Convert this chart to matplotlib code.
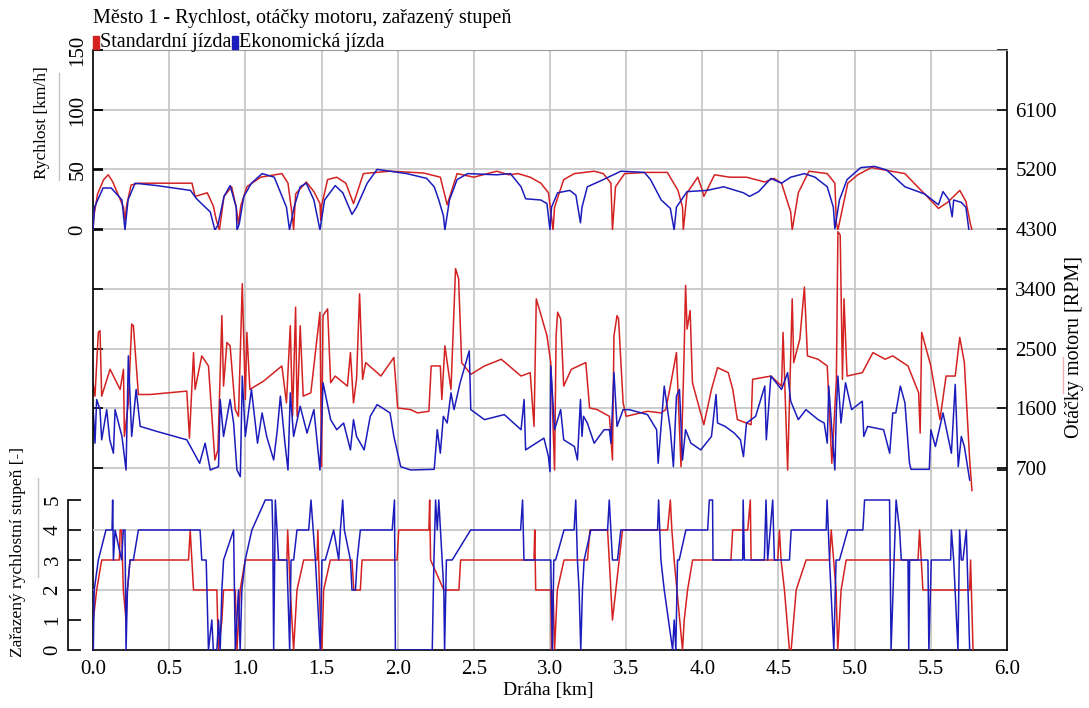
import matplotlib.pyplot as plt
import matplotlib as mpl
from matplotlib.lines import Line2D
from matplotlib.patches import Rectangle
import numpy as np

mpl.rcParams['font.family'] = ['Liberation Serif', 'DejaVu Serif']

title = 'Město 1 - Rychlost, otáčky motoru, zařazený stupeň'
names = ['Standardní jízda', 'Ekonomická jízda']
colors = ['#d42222', '#1c1cbc']

# rychlost [km/h]
spd_std_km = [0, 0.005, 0.03, 0.07, 0.10, 0.13, 0.17, 0.2, 0.21, 0.22, 0.25, 0.30, 0.48, 0.65, 0.67, 0.75,
              0.79, 0.81, 0.83, 0.86, 0.91, 0.94, 0.955, 0.97, 1.01, 1.10, 1.24, 1.28, 1.31, 1.317, 1.33,
              1.40, 1.45, 1.49, 1.495, 1.50, 1.54, 1.60, 1.66, 1.71, 1.775, 1.86, 1.95, 2.10, 2.17, 2.28,
              2.325, 2.39, 2.50, 2.65, 2.73, 2.79, 2.87, 2.94, 2.99, 3.02, 3.03, 3.09, 3.16, 3.29, 3.35,
              3.40, 3.41, 3.43, 3.49, 3.64, 3.77, 3.84, 3.87, 3.875, 3.90, 3.97, 4.00, 4.01, 4.08, 4.18,
              4.29, 4.41, 4.47, 4.52, 4.58, 4.59, 4.63, 4.70, 4.82, 4.87, 4.88, 4.89, 4.955, 5.02, 5.11,
              5.24, 5.33, 5.39, 5.46, 5.55, 5.61, 5.69, 5.73, 5.76, 5.77]
spd_std = [0, 11, 30, 42, 46, 40, 28, 19, 8, 20, 37.5, 39, 39, 39, 28, 31,
           20, 8, 0, 28, 36, 19, 5, 20, 36, 44, 47, 39, 10, 0, 30,
           40, 32, 22, 8, 20, 42, 44, 39, 22, 47, 48, 49, 48, 47.5, 44,
           21, 47, 44, 49, 46, 47, 44, 39, 31, 0, 19, 42, 47, 49, 47,
           39, 0, 36, 47, 48, 48, 33, 19, 0, 31, 44, 33, 28, 46, 44,
           44, 40, 43, 39, 15, 0, 31, 49, 47, 39, 6, 0, 39, 46, 52,
           49, 47, 39, 30, 18, 23, 33, 24, 5, 0]
spd_eko_km = [0, 0.01, 0.066, 0.12, 0.19, 0.21, 0.23, 0.276, 0.42, 0.64, 0.68, 0.77, 0.80, 0.82, 0.86,
              0.90, 0.94, 0.945, 0.96, 0.99, 1.04, 1.11, 1.19, 1.27, 1.29, 1.32, 1.36, 1.40, 1.45, 1.49,
              1.52, 1.59, 1.64, 1.70, 1.73, 1.80, 1.865, 1.95, 2.06, 2.19, 2.24, 2.27, 2.30, 2.31, 2.34,
              2.39, 2.46, 2.65, 2.74, 2.81, 2.84, 2.94, 2.98, 3.0, 3.01, 3.05, 3.13, 3.17, 3.20, 3.21,
              3.245, 3.35, 3.465, 3.62, 3.66, 3.73, 3.79, 3.815, 3.83, 3.90, 4.03, 4.14, 4.27, 4.31, 4.37,
              4.45, 4.52, 4.58, 4.67, 4.74, 4.82, 4.86, 4.87, 4.90, 4.95, 5.04, 5.13, 5.21, 5.33, 5.46,
              5.55, 5.58, 5.62, 5.64, 5.65, 5.70, 5.73, 5.75]
spd_eko = [0, 19, 35, 35, 25, 0, 25, 39, 37, 33, 26, 15, 0, 4, 28,
           37, 19, 0, 5, 28, 39, 47, 44, 19, 0, 19, 36, 39, 25, 0,
           25, 37, 31, 13, 19, 39, 50.5, 49, 47, 43, 36, 25, 12, 0, 25,
           42, 47, 46, 47, 36, 26, 25, 22, 0, 19, 31, 33, 29, 6, 19,
           36, 42, 49, 48, 42, 25, 18, 0, 19, 32, 33, 36, 31, 28, 32,
           43, 39, 44, 47, 44, 36, 19, 1, 25, 42, 52, 53, 50, 36, 30,
           21, 32, 25, 11, 25, 23, 19, 0]

# otáčky motoru [RPM]
rpm_std_km = [0.0, 0.013, 0.035, 0.046, 0.057, 0.112, 0.178, 0.2, 0.206, 0.232, 0.254, 0.265, 0.298, 0.375,
              0.616, 0.633, 0.66, 0.67, 0.714, 0.758, 0.80, 0.82, 0.846, 0.857, 0.879, 0.90, 0.934, 0.955,
              0.98, 1.0, 1.01, 1.03, 1.12, 1.24, 1.27, 1.295, 1.31, 1.33, 1.34, 1.36, 1.38, 1.43, 1.49,
              1.50, 1.51, 1.54, 1.56, 1.59, 1.67, 1.69, 1.71, 1.73, 1.75, 1.77, 1.79, 1.89, 1.975, 2.0,
              2.085, 2.13, 2.205, 2.22, 2.28, 2.29, 2.31, 2.35, 2.38, 2.40, 2.42, 2.48, 2.57, 2.68, 2.81,
              2.87, 2.895, 2.91, 2.98, 3.005, 3.015, 3.03, 3.04, 3.05, 3.07, 3.09, 3.14, 3.235, 3.26, 3.31,
              3.39, 3.41, 3.42, 3.44, 3.45, 3.48, 3.50, 3.64, 3.73, 3.76, 3.79, 3.83, 3.86, 3.88, 3.89,
              3.90, 3.92, 3.935, 4.01, 4.06, 4.10, 4.17, 4.20, 4.23, 4.32, 4.33, 4.45, 4.52, 4.53, 4.56,
              4.59, 4.60, 4.64, 4.67, 4.69, 4.76, 4.82, 4.85, 4.88, 4.89, 4.905, 4.92, 4.93, 4.95, 5.05,
              5.12, 5.20, 5.25, 5.35, 5.42, 5.43, 5.44, 5.50, 5.56, 5.60, 5.66, 5.69, 5.72, 5.755, 5.77]
rpm_std = [1985, 1783, 2744, 2770, 1783, 2188, 1884, 2188, 1176, 1682, 2870, 2845, 1808, 1808,
           1859, 1150, 2440, 1884, 2390, 2238, 821, 973, 2997, 1935, 2592, 2542, 1580, 1479,
           3478, 1732, 2744, 1884, 2010, 2238, 1682, 2845, 1479, 3124, 1479, 2845, 1783, 1833, 3048,
           720, 2997, 3098, 1985, 2086, 1935, 2440, 1682, 2036, 3326, 2036, 2289, 2086, 2365, 1605,
           1580, 1530, 1555, 2238, 2238, 1732, 2542, 1884, 3706, 3554, 2289, 2112, 2238, 2339, 2086,
           2137, 1327, 3250, 2694, 2289, 1682, 670, 2694, 3048, 2947, 1935, 2188, 2289, 1606, 1580,
           1479, 821, 2694, 2997, 2947, 1682, 1479, 1555, 1530, 1580, 1935, 2440, 720, 2390, 3452,
           2795, 3073, 1985, 1353, 1884, 2213, 2137, 1884, 1429, 1353, 2036, 2086, 1935, 2744, 670,
           3250, 2289, 2643, 3427, 2390, 2339, 2238, 771, 2036, 4262, 4212, 2036, 3250, 2086, 2137,
           2440, 2339, 2390, 2238, 1833, 1226, 2744, 2238, 1429, 2086, 2086, 2668, 2289, 821, 360]
rpm_eko_km = [0.0, 0.013, 0.024, 0.046, 0.057, 0.09, 0.11, 0.134, 0.145, 0.19, 0.217, 0.232, 0.254, 0.283,
              0.31, 0.42, 0.616, 0.70, 0.736, 0.77, 0.824, 0.835, 0.857, 0.90, 0.923, 0.945, 0.967, 0.98,
              1.0, 1.04, 1.08, 1.11, 1.14, 1.186, 1.21, 1.23, 1.26, 1.28, 1.295, 1.317, 1.36, 1.405,
              1.45, 1.49, 1.51, 1.56, 1.60, 1.645, 1.69, 1.71, 1.73, 1.78, 1.82, 1.865, 1.95, 1.975,
              2.02, 2.085, 2.24, 2.26, 2.28, 2.30, 2.325, 2.35, 2.37, 2.41, 2.47, 2.48, 2.57, 2.70,
              2.81, 2.83, 2.84, 2.96, 2.99, 3.0, 3.005, 3.03, 3.07, 3.09, 3.16, 3.18, 3.20, 3.21, 3.22,
              3.245, 3.29, 3.355, 3.39, 3.40, 3.42, 3.44, 3.48, 3.52, 3.64, 3.66, 3.70, 3.71, 3.75,
              3.79, 3.81, 3.83, 3.85, 3.87, 3.89, 3.925, 3.99, 4.06, 4.09, 4.10, 4.15, 4.21, 4.25,
              4.27, 4.29, 4.35, 4.41, 4.42, 4.45, 4.52, 4.56, 4.58, 4.63, 4.68, 4.76, 4.80, 4.82, 4.83,
              4.85, 4.87, 4.88, 4.89, 4.91, 4.94, 4.98, 5.05, 5.06, 5.085, 5.19, 5.23, 5.25, 5.27, 5.30,
              5.33, 5.36, 5.37, 5.49, 5.50, 5.53, 5.58, 5.635, 5.66, 5.68, 5.70, 5.72, 5.755]
rpm_eko = [1631, 1074, 1732, 1580, 1125, 1580, 1125, 923, 1580, 1176, 670, 2390, 1176, 1884,
           1327, 1251, 1125, 771, 1074, 670, 720, 1732, 1176, 1732, 1378, 670, 570, 2086,
           1176, 1884, 1074, 1530, 1176, 821, 1277, 1783, 1074, 670, 1833, 1176, 1631, 1226,
           1580, 670, 1985, 1429, 1277, 1378, 973, 1429, 1176, 973, 1479, 1656, 1530, 1176,
           720, 670, 680, 1277, 923, 1479, 1378, 1833, 1580, 1985, 2466, 1580, 1429, 1505,
           1277, 1732, 973, 1150, 872, 645, 2238, 1277, 1580, 1125, 1024, 821, 1732, 1176, 1479,
           1378, 1074, 1277, 1277, 1074, 2137, 1327, 1580, 1580, 1505, 1429, 1277, 771, 1935,
           1277, 720, 1783, 1884, 821, 1277, 1074, 973, 1176, 1808, 1378, 1327, 1226, 1125,
           872, 1378, 1479, 1935, 1125, 2086, 1884, 2137, 1707, 1429, 1580, 1429, 1378, 1074, 1935,
           1277, 670, 1580, 2086, 1378, 1985, 1580, 1707, 1176, 1327, 1277, 923, 1530, 1530, 1935,
           1682, 771, 680, 680, 1277, 1024, 1530, 923, 1960, 720, 1176, 1024, 518]

# zařazený rychlostní stupeň [-]
gear_std_km = [0, 0.002, 0.024, 0.057, 0.173, 0.178, 0.188, 0.199, 0.217, 0.226, 0.243, 0.627, 0.638, 0.66,
               0.813, 0.818, 0.824, 0.846, 0.857, 0.934, 0.945, 0.966, 0.999, 1.273, 1.278, 1.295, 1.317,
               1.339, 1.383, 1.471, 1.476, 1.492, 1.503, 1.514, 1.558, 1.70, 1.712, 1.755, 1.766, 1.996,
               2.007, 2.205, 2.21, 2.216, 2.303, 2.402, 2.413, 2.895, 2.90, 2.906, 3.005, 3.01, 3.02,
               3.03, 3.048, 3.092, 3.246, 3.262, 3.378, 3.389, 3.41, 3.432, 3.454, 3.476, 3.772, 3.79,
               3.80, 3.815, 3.87, 3.881, 3.903, 3.936, 4.188, 4.199, 4.298, 4.315, 4.32, 4.495, 4.506,
               4.517, 4.539, 4.572, 4.583, 4.616, 4.681, 4.835, 4.846, 4.878, 4.889, 4.911, 4.944, 5.416,
               5.426, 5.448, 5.755, 5.761, 5.777]
gear_std = [0, 1, 2, 3, 3, 4, 4, 2, 1, 2, 3, 3, 4, 2,
            2, 1, 0, 1, 2, 2, 0, 2, 3, 3, 4, 2, 0,
            2, 3, 3, 4, 1, 0, 2, 3, 3, 2, 2, 3, 3,
            4, 4, 5, 3, 2, 2, 3, 3, 4, 2, 2, 0, 2,
            0, 2, 3, 3, 4, 4, 3, 1, 2, 3, 4, 4, 5,
            4, 3, 0, 1, 2, 3, 3, 4, 4, 5, 3, 3, 4,
            3, 2, 0, 0, 2, 3, 3, 4, 2, 0, 2, 3, 3,
            4, 2, 2, 3, 0]
gear_eko_km = [0, 0.002, 0.008, 0.035, 0.085, 0.125, 0.129, 0.134, 0.145, 0.188, 0.199, 0.21, 0.217, 0.226,
               0.243, 0.265, 0.298, 0.703, 0.714, 0.743, 0.758, 0.78, 0.79, 0.813, 0.824, 0.835, 0.846,
               0.857, 0.923, 0.934, 0.955, 0.966, 0.977, 0.999, 1.043, 1.131, 1.175, 1.18, 1.186, 1.197,
               1.208, 1.218, 1.273, 1.291, 1.30, 1.317, 1.339, 1.416, 1.431, 1.46, 1.492, 1.503, 1.525,
               1.58, 1.613, 1.624, 1.639, 1.65, 1.69, 1.70, 1.723, 1.734, 1.755, 1.964, 1.979, 1.985,
               2.227, 2.238, 2.249, 2.26, 2.27, 2.281, 2.303, 2.308, 2.32, 2.358, 2.479, 2.807, 2.82,
               2.829, 3.005, 3.016, 3.025, 3.037, 3.092, 3.158, 3.169, 3.18, 3.191, 3.202, 3.213, 3.224,
               3.268, 3.378, 3.389, 3.41, 3.443, 3.465, 3.706, 3.713, 3.728, 3.75, 3.805, 3.815, 3.826,
               3.837, 3.848, 3.892, 4.035, 4.046, 4.067, 4.07, 4.265, 4.268, 4.276, 4.407, 4.418, 4.429,
               4.462, 4.473, 4.572, 4.583, 4.813, 4.819, 4.835, 4.863, 4.878, 4.90, 4.955, 5.054, 5.065,
               5.229, 5.239, 5.272, 5.295, 5.306, 5.35, 5.355, 5.361, 5.481, 5.487, 5.503, 5.63, 5.635,
               5.65, 5.678, 5.689, 5.70, 5.711, 5.733, 5.744, 5.755]
gear_eko = [0, 0, 2, 3, 4, 4, 5, 3, 4, 3, 4, 4, 0, 2,
            3, 3, 4, 4, 3, 3, 0, 1, 0, 0, 1, 0, 2,
            3, 4, 0, 2, 0, 2, 3, 4, 5, 5, 4, 0, 5,
            4, 3, 3, 0, 3, 3, 4, 4, 5, 3, 0, 3, 3,
            4, 3, 4, 5, 4, 3, 2, 2, 3, 4, 4, 5, 0,
            0, 3, 5, 4, 5, 4, 2, 0, 3, 3, 4, 4, 5,
            3, 3, 0, 3, 3, 4, 4, 5, 3, 2, 0, 2, 3,
            4, 4, 5, 3, 3, 4, 4, 5, 3, 2, 0, 1, 0,
            3, 3, 4, 4, 5, 5, 3, 3, 5, 3, 3, 5, 3,
            5, 3, 3, 4, 4, 5, 3, 0, 3, 3, 4, 4, 5,
            5, 0, 5, 4, 3, 3, 0, 3, 3, 0, 3, 3, 4,
            3, 0, 4, 3, 3, 4, 2, 0]

x_ticks = np.arange(0, 6.01, 0.5)
rpm_ticks = list(range(700, 7001, 900))

W, H = 1089, 708


def box(x0, y0, x1, y1):
    return [x0 / W, 1 - y1 / H, (x1 - x0) / W, (y1 - y0) / H]


fig = plt.figure(figsize=(W / 100, H / 100), dpi=100)
grid_c = '#c8c8c8'
fs_tick = 15
fs = 14.5

# rámeček + otáčky (pravá osa)
ax = fig.add_axes(box(93, 50, 1007, 650))
ax.set_xlim(0, 6)
ax.set_ylim(-2043, 7000)
ax.set_xticks(x_ticks)
ax.set_xticklabels(['%.1f' % v for v in x_ticks], fontsize=fs_tick)
ax.set_yticks(rpm_ticks)
ax.set_yticklabels([str(v) for v in rpm_ticks[:-1]] + [''], fontsize=fs_tick)
ax.tick_params(axis='y', left=True, right=True, labelleft=False, labelright=True,
               direction='in', length=7, width=1.2, pad=6)
ax.tick_params(axis='x', length=0, pad=7)
ax.grid(True, color=grid_c, lw=1.3)
ax.spines['top'].set_color('#9a9a9a')
for s in ['left', 'right', 'bottom']:
    ax.spines[s].set_linewidth(1.2)
ax.plot(rpm_std_km, rpm_std, color=colors[0], lw=1.1)
ax.plot(rpm_eko_km, rpm_eko, color=colors[1], lw=1.1)

# rychlost
axs = fig.add_axes(box(93, 50, 1007, 230))
axs.patch.set_visible(False)
for s in axs.spines.values():
    s.set_visible(False)
axs.set_xlim(0, 6)
axs.set_ylim(0, 150)
axs.set_yticks([0, 50, 100, 150])
axs.tick_params(axis='x', bottom=False, labelbottom=False)
axs.tick_params(axis='y', direction='in', length=7, width=1.2, pad=4, labelsize=fs_tick)
plt.setp(axs.get_yticklabels(), rotation=90, va='center')
axs.plot(spd_std_km, spd_std, color=colors[0], lw=1.1)
axs.plot(spd_eko_km, spd_eko, color=colors[1], lw=1.1)

# stupeň
axg = fig.add_axes(box(93, 470, 1007, 650))
axg.patch.set_visible(False)
for s in ['top', 'right', 'bottom']:
    axg.spines[s].set_visible(False)
axg.spines['left'].set_position(('outward', 18))
axg.spines['left'].set_bounds(0, 5)
axg.spines['left'].set_linewidth(1.2)
axg.set_xlim(0, 6)
axg.set_ylim(0, 6)
axg.set_yticks(range(6))
axg.tick_params(axis='x', bottom=False, labelbottom=False)
axg.tick_params(axis='y', direction='in', length=9, width=1.2, pad=4, labelsize=fs_tick)
plt.setp(axg.get_yticklabels(), rotation=90, va='center')
for g in [2, 4]:
    axg.axhline(g, color=grid_c, lw=1.3, zorder=0)
axg.plot(gear_std_km, gear_std, color=colors[0], lw=1.1)
axg.plot(gear_eko_km, gear_eko, color=colors[1], lw=1.1)
axg2 = axg.twinx()
for s in axg2.spines.values():
    s.set_visible(False)
axg2.set_ylim(0, 6)
axg2.set_yticks([2, 4, 6])
axg2.tick_params(axis='y', direction='in', length=7, width=1.2, labelright=False)

# popisky
fig.text(93 / W, 1 - 19 / H, title, va='center', fontsize=fs)
fig.text(42 / W, 1 - 123 / H, 'Rychlost [km/h]', rotation=90, ha='center', va='center', fontsize=12.5)
fig.text(1074 / W, 1 - 347 / H, 'Otáčky motoru [RPM]', rotation=90, ha='center', va='center', fontsize=fs)
fig.text(18 / W, 1 - 552 / H, 'Zařazený rychlostní stupeň [-]', rotation=90, ha='center', va='center',
         fontsize=12.5)
fig.text(548 / W, 1 - 690 / H, 'Dráha [km]', ha='center', va='center', fontsize=14)

fig.add_artist(Line2D([59 / W, 59 / W], [1 - 73 / H, 1 - 180 / H], color='#c4c4c4', lw=1))
fig.add_artist(Line2D([38 / W, 38 / W], [1 - 478 / H, 1 - 577 / H], color='#c4c4c4', lw=1))
fig.add_artist(Line2D([1063 / W, 1063 / W], [1 - 357 / H, 1 - 393 / H], color='#f0b0b0', lw=1))

# legenda
fig.canvas.draw()
r = fig.canvas.get_renderer()
x = 93
for name, c in zip(names, colors):
    fig.add_artist(Rectangle((x / W, 1 - 49 / H), 6 / W, 13 / H, color=c))
    t = fig.text((x + 7) / W, 1 - 43 / H, name, va='center', fontsize=fs)
    x = x + 8 + t.get_window_extent(r).width

fig.savefig('out.png', dpi=100)
